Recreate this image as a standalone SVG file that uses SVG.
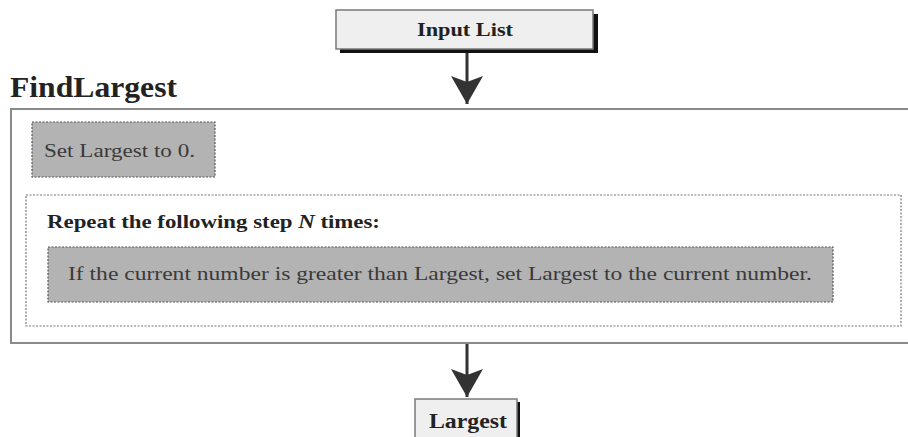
<svg xmlns="http://www.w3.org/2000/svg" width="908" height="437" viewBox="0 0 908 437">
<defs>
<style>
.t{font-family:"Liberation Serif","Times New Roman",serif;fill:#222}
.b{font-weight:bold}
.n{fill:#3a3a3a}
.io{fill:#efefef;stroke:#7a7a7a;stroke-width:1.5}
.sh{fill:#111}
.step{fill:#b3b3b3;stroke:#555;stroke-width:1.2;stroke-dasharray:2 1.5}
.loop{fill:#fff;stroke:#777;stroke-width:1.2;stroke-dasharray:2 1.5}
.cont{fill:#fff;stroke:#8a8a8a;stroke-width:2}
.conn{stroke:#333;stroke-width:3;fill:none}
</style>
<marker id="ah" viewBox="0 0 28 32" markerWidth="28" markerHeight="32" refX="28" refY="16" markerUnits="userSpaceOnUse" orient="auto">
<path d="M0 0 L6 16 L0 32 L28 16 Z" fill="#333"/>
</marker>
</defs>
<rect width="908" height="437" fill="#fff"/>
<g id="FindLargest">
<rect class="cont" x="11" y="109" width="900" height="234"/>
<text class="t b" x="10" y="97" font-size="30" textLength="167" lengthAdjust="spacingAndGlyphs">FindLargest</text>
</g>
<g id="set-largest">
<rect class="step" x="32" y="122" width="183" height="55"/>
<text class="t n" x="44" y="157" font-size="19" textLength="151" lengthAdjust="spacingAndGlyphs">Set Largest to 0.</text>
</g>
<g id="repeat">
<rect class="loop" x="26" y="195" width="875" height="131"/>
<text class="t b" x="47" y="228" font-size="19" textLength="333" lengthAdjust="spacingAndGlyphs">Repeat the following step <tspan font-style="italic">N</tspan> times:</text>
</g>
<g id="compare">
<rect class="step" x="48" y="247" width="785" height="55"/>
<text class="t n" x="68" y="280" font-size="19" textLength="744" lengthAdjust="spacingAndGlyphs">If the current number is greater than Largest, set Largest to the current number.</text>
</g>
<g id="input-list">
<rect class="sh" x="340" y="14" width="258" height="39"/>
<rect class="io" x="336" y="10" width="257" height="39"/>
<text class="t b" x="465" y="36" font-size="19" text-anchor="middle" textLength="96" lengthAdjust="spacingAndGlyphs">Input List</text>
</g>
<g id="largest">
<rect class="sh" x="418" y="402" width="102" height="40"/>
<rect class="io" x="415" y="399" width="102" height="40"/>
<text class="t b" x="468" y="428" font-size="20" text-anchor="middle" textLength="78" lengthAdjust="spacingAndGlyphs">Largest</text>
</g>
<g id="connectors">
<line class="conn" x1="467" y1="53" x2="467" y2="104" marker-end="url(#ah)"/>
<line class="conn" x1="467" y1="344" x2="467" y2="397" marker-end="url(#ah)"/>
</g>
</svg>
